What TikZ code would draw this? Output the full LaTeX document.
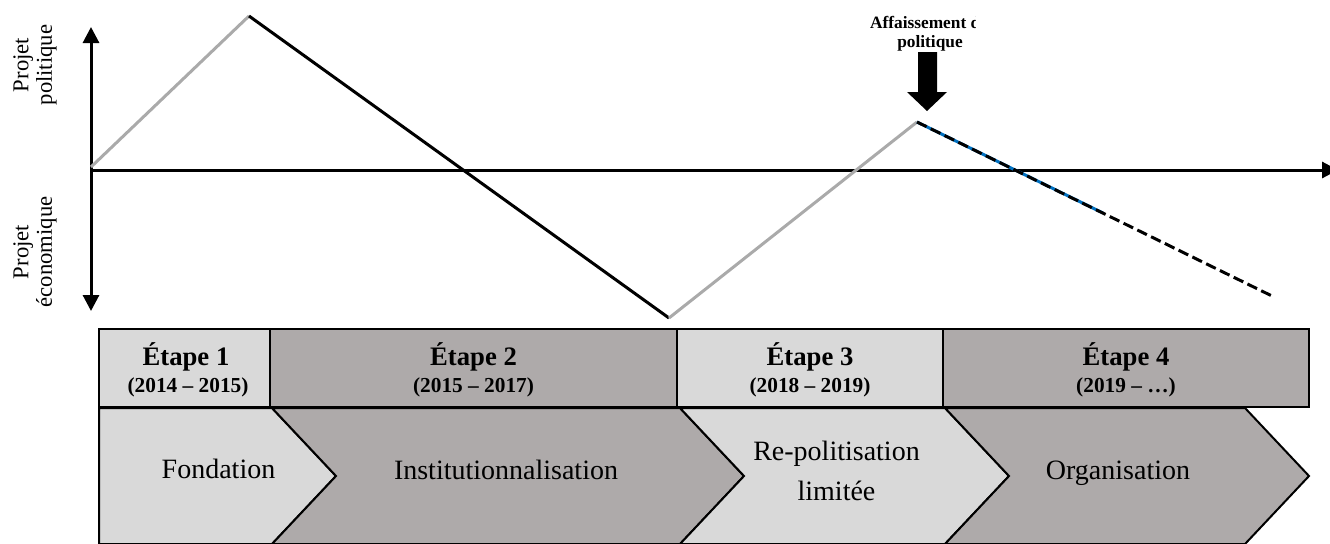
\documentclass[tikz,border=0pt]{standalone}
\usepackage{fontspec}
\setmainfont{Liberation Serif}
\usetikzlibrary{arrows.meta, positioning}
\definecolor{phaselight}{RGB}{217, 217, 217}
\definecolor{phasedark}{RGB}{174, 170, 170}
\definecolor{trendgray}{RGB}{170, 170, 170}
\definecolor{trendblue}{RGB}{0, 112, 192}

\begin{document}
\begin{tikzpicture}[x=0.75pt, y=-0.75pt,
  >={Triangle[length=12pt, width=12pt]},
  axis/.style={line width=2.25pt},
  trend/.style={line width=2.25pt},
  stagebox/.style={draw, line width=1.5pt},
  chevron/.style={draw, line width=1.5pt, line join=miter},
  stagetitle/.style={anchor=base, font=\fontsize{20}{24}\selectfont\bfseries},
  stageyears/.style={anchor=base, font=\fontsize{16}{18}\selectfont\bfseries},
  phaselabel/.style={anchor=base, align=center, font=\fontsize{21}{30}\selectfont},
  axislabel/.style={rotate=90, align=center, font=\fontsize{17}{17.5}\selectfont}
]
  \clip (0,0) rectangle (1330,543);

  \node[axislabel] (polit) at (35,65) {Projet\\politique};
  \node[axislabel] (econ) at (35,252) {Projet\\économique};

  \coordinate (origin) at (91,170);
  \coordinate (ytop) at (91,27);
  \coordinate (ybot) at (91,311);
  \coordinate (xend) at (1338,170);
  \draw[axis, <->] (ytop) -- (ybot);
  \draw[axis, ->] (origin) -- (xend);

  \coordinate (t0) at (91,167);
  \coordinate (t1) at (249,16);
  \coordinate (t2) at (669,318);
  \coordinate (t3) at (917,122);
  \coordinate (t4) at (1103,213);
  \coordinate (t5) at (1272,296);
  \draw[trend, trendgray] (t0) -- (t1);
  \draw[trend] (t1) -- (t2);
  \draw[trend, trendgray] (t2) -- (t3);
  \draw[trend, trendblue] (t3) -- (t4);
  \draw[trend, dash pattern=on 8pt off 3.5pt] (t3) -- (t5);

  \begin{scope}
    \clip (840,0) rectangle (975,60);
    \node[align=center, font=\fontsize{13}{14.5}\selectfont\bfseries] (dropnote) at (930,34) {Affaissement du\\politique};
  \end{scope}
  \fill (918,52) -- (937,52) -- (937,92) -- (947,92) -- (927,111) -- (907,92) -- (918,92) -- cycle;

  \draw[chevron, fill=phaselight] (99,408) -- (272,408) -- (336,476) -- (272,544) -- (99,544) -- cycle;
  \draw[chevron, fill=phasedark] (272,408) -- (680,408) -- (744,476) -- (680,544) -- (272,544) -- (336,476) -- cycle;
  \draw[chevron, fill=phaselight] (680,408) -- (945,408) -- (1009,476) -- (945,544) -- (680,544) -- (744,476) -- cycle;
  \draw[chevron, fill=phasedark] (945,408) -- (1245,408) -- (1309,476) -- (1245,544) -- (945,544) -- (1009,476) -- cycle;

  \draw[stagebox, fill=phaselight] (99,329) rectangle (270,407);
  \draw[stagebox, fill=phasedark] (270,329) rectangle (677,407);
  \draw[stagebox, fill=phaselight] (677,329) rectangle (943,407);
  \draw[stagebox, fill=phasedark] (943,329) rectangle (1309,407);

  \node[stagetitle] (title1) at (186,365) {Étape 1};
  \node[stageyears] (years1) at (188,392) {(2014 – 2015)};
  \node[stagetitle] (title2) at (473.5,365) {Étape 2};
  \node[stageyears] (years2) at (473.5,392) {(2015 – 2017)};
  \node[stagetitle] (title3) at (810,365) {Étape 3};
  \node[stageyears] (years3) at (810,392) {(2018 – 2019)};
  \node[stagetitle] (title4) at (1126,365) {Étape 4};
  \node[stageyears] (years4) at (1126,392) {(2019 – …)};

  \node[phaselabel] (found) at (218.5,478) {Fondation};
  \node[phaselabel] (instit) at (506,479) {Institutionnalisation};
  \node[phaselabel] (repolit) at (836.5,500) {Re-politisation\\limitée};
  \node[phaselabel] (organ) at (1118,479) {Organisation};
\end{tikzpicture}
\end{document}
